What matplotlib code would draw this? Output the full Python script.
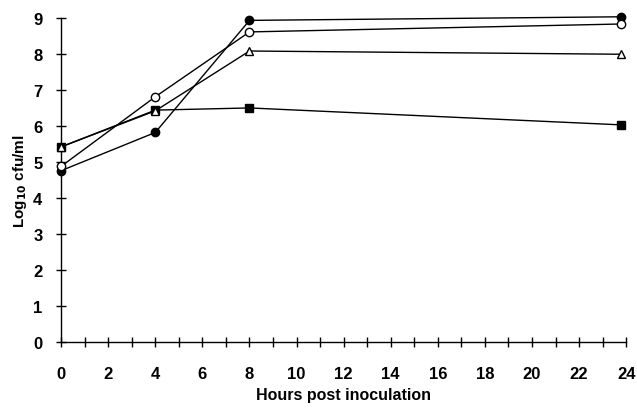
import numpy as np
import matplotlib.pyplot as plt
from matplotlib.ticker import MultipleLocator

plt.rcParams['font.family'] = ['Liberation Sans', 'DejaVu Sans']
plt.rcParams['font.weight'] = 'bold'

hours = [0, 4, 8, 23.8]
filled_circle = [4.76, 5.82, 8.93, 9.03]
open_circle = [4.88, 6.81, 8.61, 8.83]
open_triangle = [5.42, 6.42, 8.08, 7.99]
filled_square = [5.42, 6.44, 6.5, 6.03]

fig = plt.figure(figsize=(6.37, 4.10), dpi=100)
ax = fig.add_axes([0.096, 0.163, 0.887, 0.791])

ax.plot(hours, filled_square, '-', color='black', lw=1, marker='s', ms=5.5,
        mfc='black', mec='black', clip_on=False, zorder=3)
ax.plot(hours, filled_circle, '-', color='black', lw=1, marker='o', ms=6,
        mfc='black', mec='black', clip_on=False, zorder=3)
ax.plot(hours, open_circle, '-', color='black', lw=1, marker='o', ms=6,
        mfc='white', mec='black', clip_on=False, zorder=4)
ax.plot(hours, open_triangle, '-', color='black', lw=1, marker='^', ms=6,
        mfc='white', mec='black', clip_on=False, zorder=5)

ax.set_xlim(0, 24)
ax.set_ylim(0, 9)
ax.xaxis.set_major_locator(MultipleLocator(2))
ax.xaxis.set_minor_locator(MultipleLocator(1))
ax.yaxis.set_major_locator(MultipleLocator(1))

for s in ['top', 'right']:
    ax.spines[s].set_visible(False)
for s in ['left', 'bottom']:
    ax.spines[s].set_linewidth(1)

ax.tick_params(which='both', direction='inout', length=7, width=1)
ax.tick_params(axis='x', which='major', pad=14)
ax.tick_params(axis='y', which='major', pad=10)
ax.tick_params(labelsize=12)
for lab in ax.get_xticklabels() + ax.get_yticklabels():
    lab.set_fontweight('bold')

ax.set_xlabel('Hours post inoculation', fontsize=11.5, fontweight='bold', labelpad=4)
ax.set_ylabel('Log$_{\\mathbf{10}}$ cfu/ml', fontsize=11, fontweight='bold', labelpad=3)

fig.savefig('out.png', dpi=100)
